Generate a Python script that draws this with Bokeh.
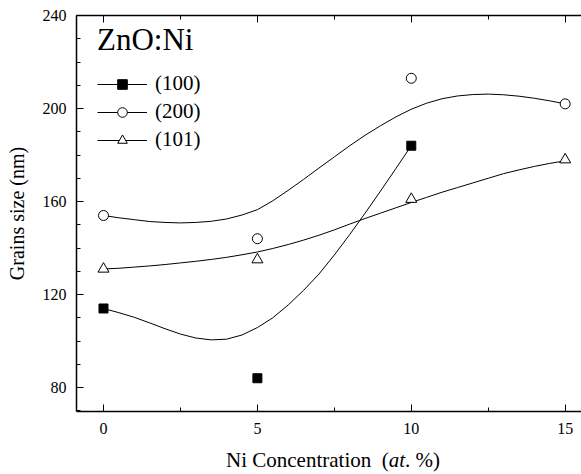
from bokeh.plotting import figure
from bokeh.models import (Range1d, LinearAxis, SingleIntervalTicker, Legend, LegendItem, Div)
from bokeh.layouts import column
from bokeh.embed import file_html
from bokeh.resources import INLINE

# ---- measured data points ----
ni_conc = [0, 5, 10, 15]
ni_conc_100 = [0, 5, 10]
size_100 = [114, 84, 184]
size_200 = [154, 144, 213, 202]
size_101 = [131, 135, 161, 178]

# ---- smooth fit curves ----
fit_x_100 = [0, 0.5, 1, 1.5, 2, 2.5, 3, 3.5, 4, 4.5, 5, 5.5, 6, 6.5, 7, 7.5, 8, 8.5, 9, 9.5, 10]
fit_y_100 = [114, 112.2, 110.2, 107.8, 105.3, 103.0, 101.3, 100.5, 100.8, 102.6, 105.8,
             110.0, 115.5, 121.8, 128.8, 137.0, 145.8, 155.0, 164.5, 174.2, 184]
fit_x_15 = [0, 0.5, 1, 1.5, 2, 2.5, 3, 3.5, 4, 4.5, 5, 5.5, 6, 6.5, 7, 7.5, 8, 8.5, 9, 9.5,
            10, 10.5, 11, 11.5, 12, 12.5, 13, 13.5, 14, 14.5, 15]
fit_y_200 = [154, 153, 152.2, 151.4, 151.0, 150.8, 151.0, 151.5, 152.5, 154.2, 156.5,
             160.3, 164.8, 169.5, 174.4, 179.2, 184, 188.5, 192.6, 196.4, 199.7,
             202.3, 204.2, 205.4, 206, 206.2, 205.9, 205.3, 204.4, 203.3, 202]
fit_y_101 = [131, 131.3, 131.8, 132.3, 132.9, 133.6, 134.3, 135.1, 136.0, 137.1, 138.3,
             139.8, 141.5, 143.4, 145.5, 147.8, 150.3, 152.7, 155.0, 157.3, 159.6,
             161.8, 164.0, 166.0, 168.0, 170.0, 172.0, 173.6, 175.1, 176.4, 177.5]

labels = ["(100)", "(200)", "(101)"]
title_text = "ZnO:Ni"
x_title_html = "Ni Concentration&nbsp;&nbsp;(<i>at</i>. %)"

FONT = "Liberation Serif"

p = figure(width=581, height=448, output_backend="svg", toolbar_location=None,
           x_range=Range1d(-0.877, 15.53), y_range=Range1d(69.7, 240),
           min_border_left=76, min_border_right=0, min_border_top=15, min_border_bottom=37)
p.outline_line_color = None
p.grid.visible = False
p.background_fill_color = "white"
p.border_fill_color = "white"

# curves
l100 = p.line(fit_x_100, fit_y_100, line_color="black", line_width=1)
l200 = p.line(fit_x_15, fit_y_200, line_color="black", line_width=1)
l101 = p.line(fit_x_15, fit_y_101, line_color="black", line_width=1)

# markers
s100 = p.scatter(ni_conc_100, size_100, marker="square", size=9, fill_color="black",
                 line_color="black")
s200 = p.scatter(ni_conc, size_200, marker="circle", size=10, fill_color="white",
                 line_color="black", line_width=1)
s101 = p.scatter(ni_conc, size_101, marker="triangle", size=11, fill_color="white",
                 line_color="black", line_width=1)

# axes styling
def style_axis(ax):
    ax.axis_line_color = "black"
    ax.axis_line_width = 1.5
    ax.major_tick_line_color = "black"
    ax.minor_tick_line_color = "black"
    ax.major_tick_line_width = 1
    ax.minor_tick_line_width = 1
    ax.major_tick_in = 7
    ax.major_tick_out = 0
    ax.minor_tick_in = 4
    ax.minor_tick_out = 0
    ax.major_label_text_font = FONT
    ax.major_label_text_font_size = "16px"
    ax.major_label_text_color = "black"

xax = p.xaxis[0]
xax.ticker = SingleIntervalTicker(interval=5, num_minor_ticks=2)
style_axis(xax)
xax.major_label_standoff = 11

yax = p.yaxis[0]
yax.ticker = SingleIntervalTicker(interval=40, num_minor_ticks=4)
style_axis(yax)
yax.major_label_standoff = 10
yax.axis_label = "Grains size (nm)"
yax.axis_label_text_font = FONT
yax.axis_label_text_font_size = "20px"
yax.axis_label_text_font_style = "normal"
yax.axis_label_text_color = "black"
yax.axis_label_standoff = 12

top = LinearAxis(ticker=SingleIntervalTicker(interval=5, num_minor_ticks=2))
style_axis(top)
top.major_label_overrides = {0: "", 5: "", 10: "", 15: ""}
top.major_label_standoff = 0
p.add_layout(top, "above")

legend = Legend(items=[LegendItem(label=labels[0], renderers=[l100, s100]),
                       LegendItem(label=labels[1], renderers=[l200, s200]),
                       LegendItem(label=labels[2], renderers=[l101, s101])],
                location=(21, 259))
legend.title = title_text
legend.title_text_font = FONT
legend.title_text_font_size = "31px"
legend.title_text_font_style = "normal"
legend.title_text_color = "black"
legend.title_standoff = 13
legend.label_text_font = FONT
legend.label_text_font_size = "21px"
legend.label_text_color = "black"
legend.glyph_width = 50
legend.glyph_height = 24
legend.label_height = 24
legend.spacing = 3
legend.label_standoff = 8
legend.padding = 0
legend.margin = 0
legend.border_line_color = None
legend.background_fill_alpha = 0
p.add_layout(legend)

xtitle = Div(text=x_title_html, width=355, height=26, margin=(0, 0, 0, 226),
             styles={"font-family": "'Liberation Serif', 'Times New Roman', serif",
                     "font-size": "21px", "line-height": "24px",
                     "color": "black", "white-space": "nowrap"})

layout = column(p, xtitle, spacing=0)

open("out.html", "w").write(file_html(layout, INLINE))
